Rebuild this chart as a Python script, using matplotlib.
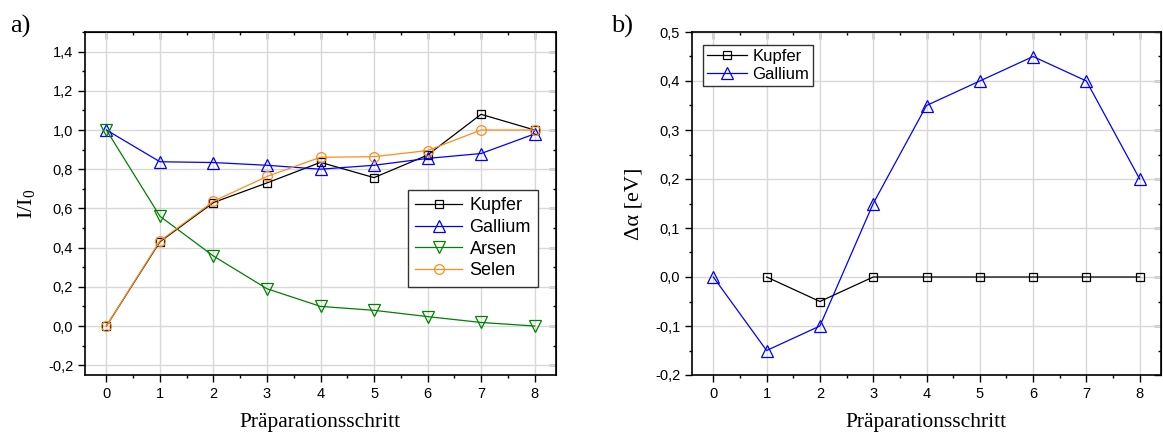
import numpy as np
import matplotlib
matplotlib.use('Agg')
from matplotlib import pyplot as plt
from matplotlib.ticker import MultipleLocator, FuncFormatter

## DATA
# preparation steps
steps = [0, 1, 2, 3, 4, 5, 6, 7, 8]
# panel a) normalised intensities
kupfer_int = [0.0, 0.43, 0.63, 0.73, 0.835, 0.757, 0.872, 1.08, 1.0]
gallium_int = [1.0, 0.838, 0.834, 0.82, 0.80, 0.82, 0.855, 0.88, 0.98]
arsen_int = [1.0, 0.56, 0.357, 0.19, 0.10, 0.08, 0.048, 0.018, 0.0]
selen_int = [0.0, 0.434, 0.636, 0.763, 0.861, 0.864, 0.895, 1.0, 1.0]
# panel b) shift in eV (Kupfer starts at step 1)
kupfer_steps = [1, 2, 3, 4, 5, 6, 7, 8]
kupfer_shift = [0.0, -0.05, 0.0, 0.0, 0.0, 0.0, 0.0, 0.0]
gallium_shift = [0.0, -0.15, -0.1, 0.15, 0.35, 0.4, 0.45, 0.4, 0.2]

TICK_FONT = 'Liberation Sans'
LABEL_FONT = 'Liberation Serif'
plt.rcParams['font.family'] = TICK_FONT
plt.rcParams['mathtext.fontset'] = 'custom'
plt.rcParams['mathtext.rm'] = LABEL_FONT
plt.rcParams['mathtext.it'] = LABEL_FONT + ':italic'

ORANGE = '#ff8c1a'
GREEN = '#008000'


def comma(val, pos):
    """ decimal comma like the german original """
    return ('%.1f' % val).replace('.', ',')


def style_axes(ax, ymajor, yminor):
    ax.set_xlim(-0.4, 8.4)
    ax.xaxis.set_major_locator(MultipleLocator(1))
    ax.xaxis.set_minor_locator(MultipleLocator(0.5))
    ax.yaxis.set_major_locator(MultipleLocator(ymajor))
    ax.yaxis.set_minor_locator(MultipleLocator(yminor))
    ax.yaxis.set_major_formatter(FuncFormatter(comma))
    ax.grid(True, which='major', color='#d8d8d8', linewidth=1.0)
    ax.set_axisbelow(True)
    ax.tick_params(which='major', direction='out', length=5, width=1, labelsize=10.5)
    ax.tick_params(which='minor', direction='out', length=2.5, width=1)
    for sp in ax.spines.values():
        sp.set_linewidth(1.2)
    # mirrored ticks pointing inwards on top and right
    top = ax.secondary_xaxis('top')
    top.xaxis.set_major_locator(MultipleLocator(1))
    top.xaxis.set_minor_locator(MultipleLocator(0.5))
    top.tick_params(which='major', direction='in', length=5, width=1, labeltop=False)
    top.tick_params(which='minor', direction='in', length=2.5, width=1)
    right = ax.secondary_yaxis('right')
    right.yaxis.set_major_locator(MultipleLocator(ymajor))
    right.yaxis.set_minor_locator(MultipleLocator(yminor))
    right.tick_params(which='major', direction='in', length=5, width=1, labelright=False)
    right.tick_params(which='minor', direction='in', length=2.5, width=1)
    ax.set_xlabel('Präparationsschritt', family=LABEL_FONT, fontsize=15.5, labelpad=9)


fig = plt.figure(figsize=(11.63, 4.42), dpi=100)
W, H = 1163, 442
ax1 = fig.add_axes([85 / W, 67 / H, 471 / W, 343 / H])
ax2 = fig.add_axes([692 / W, 67 / H, 469 / W, 343 / H])

line_kw = dict(linewidth=0.9, markerfacecolor='none', markeredgewidth=0.9)

# panel a)
ax1.plot(steps, kupfer_int, color='black', marker='s', markersize=5.5, label='Kupfer', **line_kw)
ax1.plot(steps, gallium_int, color='blue', marker='^', markersize=8, label='Gallium', **line_kw)
ax1.plot(steps, arsen_int, color=GREEN, marker='v', markersize=8, label='Arsen', **line_kw)
ax1.plot(steps, selen_int, color=ORANGE, marker='o', markersize=7, label='Selen', **line_kw)
ax1.set_ylim(-0.25, 1.5)
style_axes(ax1, 0.2, 0.1)
ax1.set_ylabel('I/I$_0$', family=LABEL_FONT, fontsize=16, labelpad=8)
leg1 = ax1.legend(loc='upper left', bbox_to_anchor=(0.686, 0.539), fontsize=13,
                  fancybox=False, edgecolor='#333333', framealpha=1,
                  handlelength=2.6, handletextpad=0.4, borderpad=0.4,
                  labelspacing=0.26, borderaxespad=0)
leg1.get_frame().set_linewidth(1.0)

# panel b)
ax2.plot(kupfer_steps, kupfer_shift, color='black', marker='s', markersize=5.5, label='Kupfer', **line_kw)
ax2.plot(steps, gallium_shift, color='blue', marker='^', markersize=8, label='Gallium', **line_kw)
ax2.set_ylim(-0.2, 0.5)
style_axes(ax2, 0.1, 0.05)
ax2.set_ylabel('Δα [eV]', family=LABEL_FONT, fontsize=16, labelpad=8)
leg2 = ax2.legend(loc='upper left', bbox_to_anchor=(0.024, 0.962), fontsize=12,
                  fancybox=False, edgecolor='#333333', framealpha=1,
                  handlelength=2.4, handletextpad=0.3, borderpad=0.25,
                  labelspacing=0.15, borderaxespad=0)
leg2.get_frame().set_linewidth(1.0)

# panel letters
fig.text(10 / W, 1 - 33 / H, 'a)', family=LABEL_FONT, fontsize=19)
fig.text(611 / W, 1 - 33 / H, 'b)', family=LABEL_FONT, fontsize=19)

fig.savefig('out.png', dpi=100)
